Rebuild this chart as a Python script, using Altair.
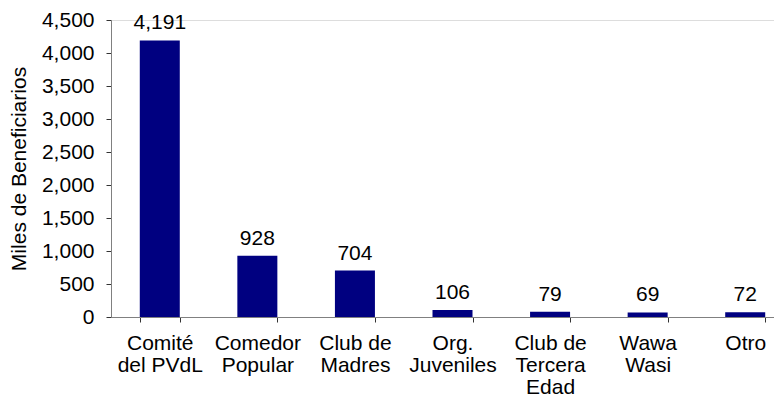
import altair as alt
import pandas as pd

categories = ["Comité\ndel PVdL", "Comedor\nPopular", "Club de\nMadres", "Org.\nJuveniles",
              "Club de\nTercera\nEdad", "Wawa\nWasi", "Otro"]
values = [4191, 928, 704, 106, 79, 69, 72]
y_ticks = [0, 500, 1000, 1500, 2000, 2500, 3000, 3500, 4000, 4500]

df = pd.DataFrame({"cat": categories, "val": values})

FONT = "Liberation Sans"
FS = 21

base = alt.Chart(df).encode(
    x=alt.X("cat:N", sort=None,
            scale=alt.Scale(paddingInner=0.59, paddingOuter=0.295, range=[0, 683]),
            axis=alt.Axis(title=None, labelAngle=0, labelExpr="split(datum.label, '\\n')",
                          tickBand="extent", tickSize=5, labelPadding=10,
                          labelFontSize=FS, labelFont=FONT, labelColor="#000",
                          labelLineHeight=22, labelBaseline="top",
                          domainColor="#808080", tickColor="#333", labelOverlap=False)),
    y=alt.Y("val:Q", scale=alt.Scale(domain=[0, 4500], nice=False),
            axis=alt.Axis(title="Miles de Beneficiarios", values=y_ticks,
                          format=",.0f", tickSize=5, labelPadding=12,
                          labelFontSize=FS, labelFont=FONT, labelColor="#000",
                          titleFontSize=FS, titleFont=FONT, titleFontWeight="normal",
                          titleColor="#000", titlePadding=12, labelOverlap=False,
                          domainColor="#808080", tickColor="#333", grid=False)),
)

bars = base.mark_bar(color="#000080")

text = base.mark_text(baseline="alphabetic", dy=-11, fontSize=FS, font=FONT, color="#000").encode(
    text=alt.Text("val:Q", format=",.0f"),
)

chart = (bars + text).properties(
    width=663, height=297,
    autosize=alt.AutoSizeParams(type="none"),
    padding={"left": 103, "top": 12, "right": 0, "bottom": 84},
).configure_view(stroke=None).configure(background="white")

chart.save("out.html", embed_options={"renderer": "svg", "actions": False})
